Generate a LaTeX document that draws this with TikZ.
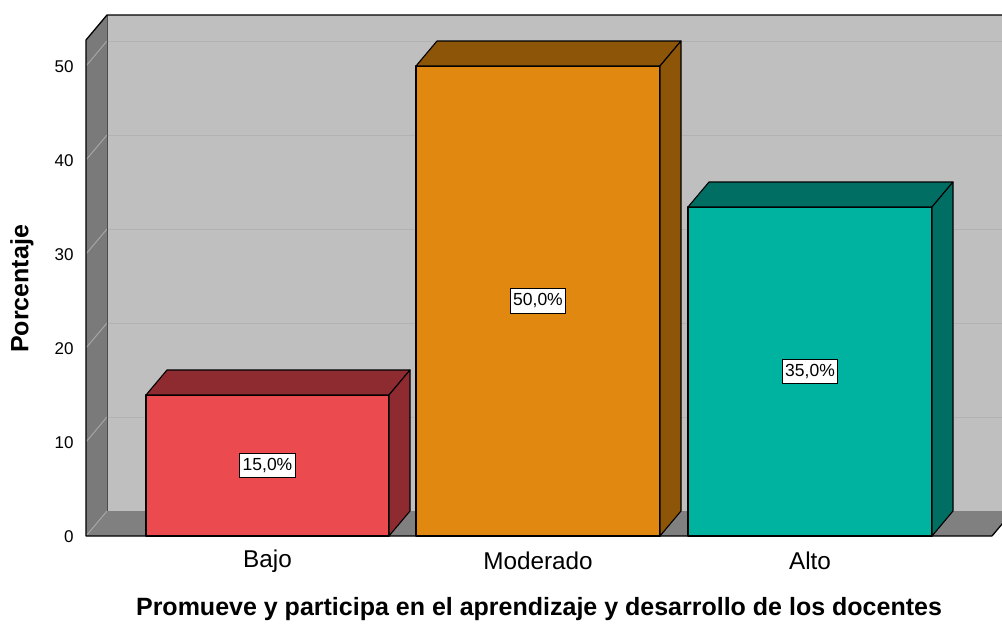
\documentclass[tikz,border=0pt]{standalone}
\usepackage{fontspec}
\setmainfont{Liberation Sans}
\usepackage{tikz}

\definecolor{backwall}{HTML}{BFBFBF}
\definecolor{sidewall}{HTML}{7A7A7A}
\definecolor{floorgray}{HTML}{808080}
\definecolor{gridback}{HTML}{B2B2B2}
\definecolor{gridside}{HTML}{A6A6A6}
\definecolor{bajofront}{HTML}{EB4A4F}
\definecolor{bajoside}{HTML}{8E2B30}
\definecolor{modfront}{HTML}{E0880F}
\definecolor{modside}{HTML}{8C5507}
\definecolor{altofront}{HTML}{00B2A0}
\definecolor{altoside}{HTML}{006E62}

\begin{document}
\begin{tikzpicture}[
	x=1pt,
	y=-1pt,
	gridline/.style={
		draw=gridback,
		line width=1pt
		},
	sideline/.style={
		draw=gridside,
		line width=1pt
		},
	frame/.style={
		draw=black,
		line width=1.3pt,
		line join=round
		},
	bar/.style={
		draw=black,
		line width=1.1pt,
		line join=round
		},
	value/.style={
		draw=black,
		fill=white,
		line width=0.8pt,
		inner xsep=3pt,
		inner ysep=5pt,
		font=\fontsize{17.5}{17.5}\selectfont
		},
	tick/.style={
		anchor=east,
		font=\fontsize{17}{17}\selectfont
		},
	category/.style={
		font=\fontsize{24.3}{27}\selectfont
		},
	axistitle/.style={
		font=\bfseries\fontsize{25}{28}\selectfont
		}
]
\useasboundingbox (0,0) rectangle (1002,624);
\clip (0,0) rectangle (1002,624);

% Walls
\fill [backwall] (107,15) rectangle (1013,511);
\fill [sidewall] (86,40) -- (107,15) -- (107,511) -- (86,536) -- cycle;
\fill [floorgray] (86,536) -- (107,511) -- (1013,511) -- (992,536) -- cycle;

% Grid on the back wall
\draw [gridline] (107,417) -- (1013,417);
\draw [gridline] (107,323) -- (1013,323);
\draw [gridline] (107,229) -- (1013,229);
\draw [gridline] (107,135) -- (1013,135);
\draw [gridline] (107,41) -- (1013,41);
% Grid on the side wall
\draw [sideline] (86,536) -- (107,511);
\draw [sideline] (86,442) -- (107,417);
\draw [sideline] (86,348) -- (107,323);
\draw [sideline] (86,254) -- (107,229);
\draw [sideline] (86,160) -- (107,135);
\draw [sideline] (86,66) -- (107,41);

% Frame
\draw [draw=black!70, line width=0.8pt] (107,15) -- (107,511);
\draw [frame] (992,536) -- (86,536) -- (86,40) -- (107,15) -- (1013,15);
\draw [frame] (992,536) -- (1013,511);

% Bars
\filldraw [bar, fill=bajofront] (146,536) rectangle (389,395);
\filldraw [bar, fill=bajoside] (146,395) -- (167,370) -- (410,370) -- (389,395) -- cycle;
\filldraw [bar, fill=bajoside] (389,395) -- (410,370) -- (410,511) -- (389,536) -- cycle;

\filldraw [bar, fill=modfront] (416,536) rectangle (660,66);
\filldraw [bar, fill=modside] (416,66) -- (437,41) -- (681,41) -- (660,66) -- cycle;
\filldraw [bar, fill=modside] (660,66) -- (681,41) -- (681,511) -- (660,536) -- cycle;

\filldraw [bar, fill=altofront] (688,536) rectangle (932,207);
\filldraw [bar, fill=altoside] (688,207) -- (709,182) -- (953,182) -- (932,207) -- cycle;
\filldraw [bar, fill=altoside] (932,207) -- (953,182) -- (953,511) -- (932,536) -- cycle;

% Values
\node [value] (Bajo value) at (267.5,465.5) {15,0\%};
\node [value] (Moderado value) at (538,301) {50,0\%};
\node [value] (Alto value) at (810,371.5) {35,0\%};

% Ticks
\node [tick] (Tick 0) at (77,537) {0};
\node [tick] (Tick 10) at (77,443) {10};
\node [tick] (Tick 20) at (77,349) {20};
\node [tick] (Tick 30) at (77,255) {30};
\node [tick] (Tick 40) at (77,161) {40};
\node [tick] (Tick 50) at (77,67) {50};

% Categories
\node [category] (Bajo) at (267.5,561) {Bajo};
\node [category] (Moderado) at (538,561) {Moderado};
\node [category] (Alto) at (810,561) {Alto};

% Axis titles
\node [axistitle, rotate=90] (Porcentaje) at (22,289) {Porcentaje};
\node [axistitle] (Title) at (539,609) {Promueve y participa en el aprendizaje y desarrollo de los docentes};
\end{tikzpicture}
\end{document}
